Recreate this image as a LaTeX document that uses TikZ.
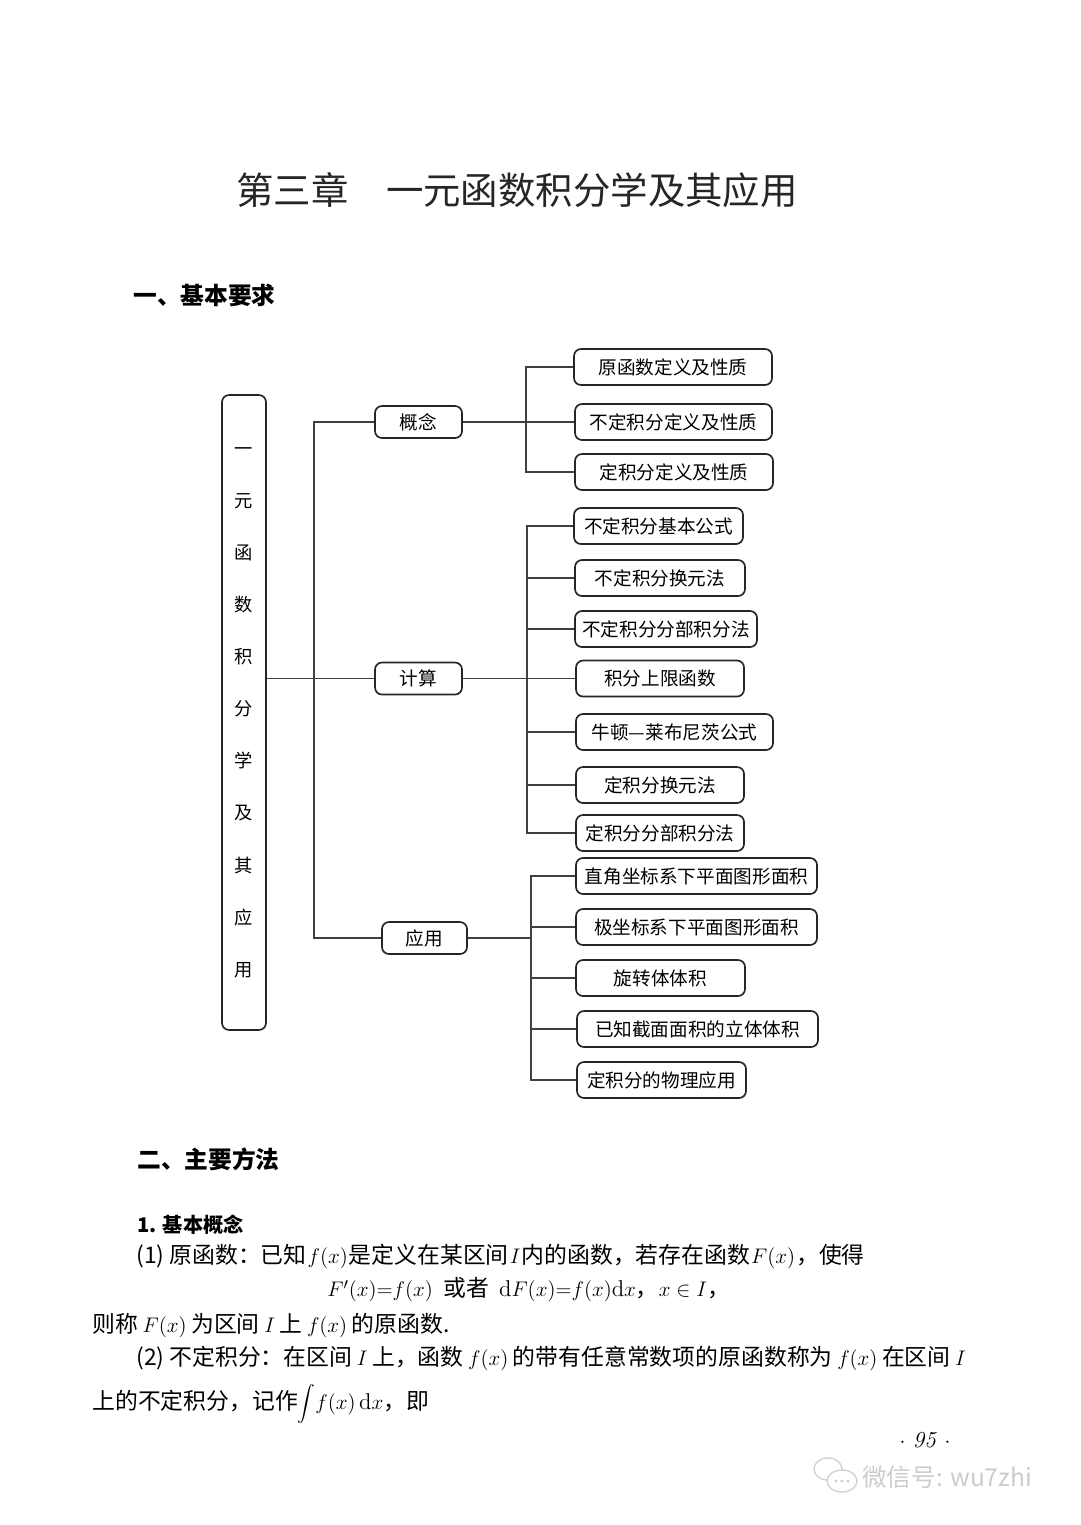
\documentclass[tikz,border=0pt]{standalone}
\usepackage{fontspec}
\newfontfamily\cjk{Noto Sans CJK SC}
\newcommand{\gp}{\hspace{2.6pt}}
\newcommand{\gq}{\hspace{0.6pt}}
\begin{document}
\begin{tikzpicture}[x=0.02cm,y=-0.02cm,
  box/.style={draw=black!85, line width=0.95pt, rounded corners=0.14cm, minimum height=0.72cm, inner sep=0pt, font=\cjk\fontsize{10.6}{12}\selectfont},
  cat/.style={box, minimum height=0.64cm},
  bw/.style={minimum width=#1*0.02cm},
  wire/.style={draw=black!75, line width=0.6pt},
  txt/.style={anchor=west, inner sep=0pt, font=\cjk\fontsize{13}{15}\selectfont},
  head/.style={anchor=west, inner sep=0pt, font=\cjk\bfseries\fontsize{13.5}{15}\selectfont}]
\fill[white] (0,0) rectangle (1080,1525);

% title and headings
\node[anchor=west, inner sep=0pt, text=black!85, font=\cjk\fontsize{21.3}{24}\selectfont] (title) at (236,190) {第三章　一元函数积分学及其应用};
\node[head] (h1) at (133,295) {一、基本要求};
\node[head] (h2) at (137,1159) {二、主要方法};

% root
\node[box, bw=44, minimum height=12.7cm, align=center, font=\cjk\fontsize{10.4}{29.66}\selectfont] (root) at (244,712.5)
 {一\\元\\函\\数\\积\\分\\学\\及\\其\\应\\用};

% categories
\node[cat, bw=87] (gn) at (418.5,422) {概念};
\node[cat, bw=87] (js) at (418.5,678.5) {计算};
\node[cat, bw=85] (yy) at (424.5,938) {应用};

% concept children
\node[box, bw=198] (a1) at (673,367) {原函数定义及性质};
\node[box, bw=197] (a2) at (673.5,422) {不定积分定义及性质};
\node[box, bw=198] (a3) at (674,472) {定积分定义及性质};

% calculation children
\node[box, bw=169] (b1) at (658.5,526) {不定积分基本公式};
\node[box, bw=170] (b2) at (660,578) {不定积分换元法};
\node[box, bw=182] (b3) at (666,629) {不定积分分部积分法};
\node[box, bw=168] (b4) at (660,678.5) {积分上限函数};
\node[box, bw=197] (b5) at (674.5,732) {牛顿—莱布尼茨公式};
\node[box, bw=168] (b6) at (660,785) {定积分换元法};
\node[box, bw=168] (b7) at (660,833) {定积分分部积分法};

% application children
\node[box, bw=241] (c1) at (696.5,876) {直角坐标系下平面图形面积};
\node[box, bw=241] (c2) at (696.5,927) {极坐标系下平面图形面积};
\node[box, bw=169] (c3) at (660.5,978) {旋转体体积};
\node[box, bw=241] (c4) at (697.5,1029) {已知截面面积的立体体积};
\node[box, bw=169] (c5) at (661.5,1080) {定积分的物理应用};

% trunk coordinates
\coordinate (t0) at (314,0);
\coordinate (ta) at (526,0);
\coordinate (tb) at (527,0);
\coordinate (tc) at (531,0);

% connectors: root to categories
\draw[wire] (root.east |- js.west) -- (js.west);
\draw[wire] (gn.west) -- (gn.west -| t0) -- (yy.west -| t0) -- (yy.west);

% concept
\draw[wire] (gn.east) -- (a2.west);
\draw[wire] (a1.west) -- (a1.west -| ta) -- (a3.west -| ta) -- (a3.west);

% calculation
\draw[wire] (js.east) -- (b4.west);
\draw[wire] (b1.west) -- (b1.west -| tb) -- (b7.west -| tb) -- (b7.west);
\foreach \n in {b2,b3,b5,b6} \draw[wire] (\n.west) -- (\n.west -| tb);

% application
\draw[wire] (yy.east) -- (yy.east -| tc);
\draw[wire] (c1.west) -- (c1.west -| tc) -- (c5.west -| tc) -- (c5.west);
\foreach \n in {c2,c3,c4} \draw[wire] (\n.west) -- (\n.west -| tc);

% body text
\node[anchor=west, inner sep=0pt, font=\cjk\bfseries\fontsize{11.5}{13}\selectfont] (s1) at (137,1225) {1. 基本概念};
\node[txt] (p1) at (136,1256) {(1) 原函数：已知\gq$f(x)$\gq 是定义在某区间\gq$I$\gq 内的函数，若存在函数\gq$F(x)$\gq，使得};
\node[txt] (p2) at (327,1290) {$F'(x){=}f(x)$\ \ 或者\ \ $\mathrm{d}F(x){=}f(x)\mathrm{d}x$，$x\in I$，};
\node[txt] (p3) at (92,1325) {则称\gp$F(x)$\gp 为区间\gp$I$\gp 上\gp$f(x)$\gp 的原函数.};
\node[txt] (p4) at (136,1358) {(2) 不定积分：在区间\gp$I$\gp 上，函数\gp$f(x)$\gp 的带有任意常数项的原函数称为\gp$f(x)$\gp 在区间\gp$I$};
\node[txt] (p5) at (92,1402) {上的不定积分，记作\smash{$\displaystyle\int$}$f(x)\,\mathrm{d}x$，即};

% page number
\node[inner sep=0pt, font=\fontsize{13}{15}\selectfont] (pg) at (925,1440) {$\cdot$\ \textit{95}\ $\cdot$};

% watermark
\draw[gray!35, line width=0.8pt, fill=white] (828,1469) ellipse (14 and 11);
\draw[gray!35, line width=0.8pt, fill=white] (842,1481) ellipse (15 and 11);
\fill[gray!40] (836,1481) circle (1.6) (842,1481) circle (1.6) (848,1481) circle (1.6);
\node[anchor=west, inner sep=0pt, text=gray!40, font=\cjk\fontsize{14}{16}\selectfont] (wm) at (862,1477) {微信号: wu7zhi};
\end{tikzpicture}
\end{document}
